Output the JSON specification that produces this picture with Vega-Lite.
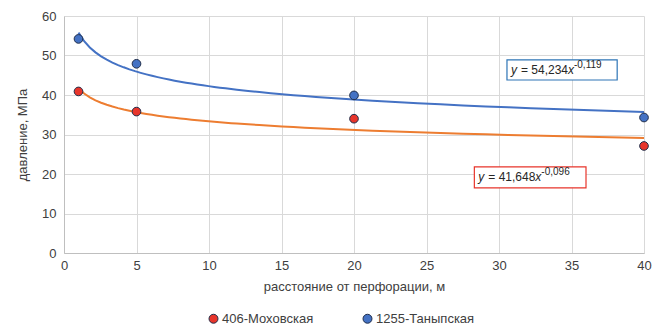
{
  "$schema": "https://vega.github.io/schema/vega-lite/v6.json",
  "autosize": "none",
  "width": 580,
  "height": 237,
  "padding": {"left": 64, "top": 16, "right": 8, "bottom": 72},
  "config": {
    "font": "Liberation Sans",
    "view": {"stroke": null},
    "axis": {"labelFont": "Liberation Sans", "titleFont": "Liberation Sans", "labelColor": "#404040", "titleColor": "#404040", "labelFontSize": 13, "titleFontSize": 13, "titleFontWeight": "normal", "gridColor": "#d9d9d9", "domainColor": "#bfbfbf", "ticks": false},
    "axisX": {"labelPadding": 6, "titlePadding": 8, "labelFlush": false},
    "axisY": {"labelPadding": 8, "titlePadding": 12}
  },
  "datasets": {
    "points": [
      {"x": 1, "y": 40.9, "series": "406-Моховская"},
      {"x": 5, "y": 35.8, "series": "406-Моховская"},
      {"x": 20, "y": 34.0, "series": "406-Моховская"},
      {"x": 40, "y": 27.1, "series": "406-Моховская"},
      {"x": 1, "y": 54.2, "series": "1255-Таныпская"},
      {"x": 5, "y": 47.9, "series": "1255-Таныпская"},
      {"x": 20, "y": 39.9, "series": "1255-Таныпская"},
      {"x": 40, "y": 34.3, "series": "1255-Таныпская"}
    ],
    "labels": [
      {"series": "1255-Таныпская", "x1": 30.55, "x2": 38.15, "y1": 48.9, "y2": 43.8, "yt": 46.35, "coef": "= 54,234", "exp": "-0,119"},
      {"series": "406-Моховская", "x1": 28.3, "x2": 36.0, "y1": 21.8, "y2": 16.5, "yt": 19.15, "coef": "= 41,648", "exp": "-0,096"}
    ]
  },
  "layer": [
    {
      "data": {"name": "points"},
      "transform": [{"regression": "y", "on": "x", "method": "pow", "groupby": ["series"], "extent": [1, 40]}],
      "mark": {"type": "line", "strokeWidth": 2},
      "encoding": {
        "x": {"field": "x", "type": "quantitative", "scale": {"domain": [0, 40], "nice": false}, "axis": {"title": "расстояние от перфорации, м", "values": [0,5,10,15,20,25,30,35,40]}},
        "y": {"field": "y", "type": "quantitative", "scale": {"domain": [0, 60], "nice": false}, "axis": {"title": "давление, МПа", "values": [0,10,20,30,40,50,60]}},
        "stroke": {"field": "series", "type": "nominal", "scale": {"domain": ["406-Моховская", "1255-Таныпская"], "range": ["#ed7d31", "#4472c4"]}, "legend": null}
      }
    },
    {
      "data": {"name": "points"},
      "mark": {"type": "point", "filled": false, "size": 75, "strokeWidth": 1, "stroke": "#1f2d4a", "opacity": 1, "fillOpacity": 1},
      "encoding": {
        "x": {"field": "x", "type": "quantitative", "axis": {"title": "расстояние от перфорации, м", "values": [0,5,10,15,20,25,30,35,40]}},
        "y": {"field": "y", "type": "quantitative", "axis": {"title": "давление, МПа", "values": [0,10,20,30,40,50,60]}},
        "fill": {"field": "series", "type": "nominal", "scale": {"domain": ["406-Моховская", "1255-Таныпская"], "range": ["#e8352b", "#4472c4"]},
          "legend": {"title": null, "orient": "none", "legendX": 143, "legendY": 296, "direction": "horizontal", "symbolType": "circle", "symbolSize": 80, "symbolStrokeColor": "#1f2d4a", "symbolStrokeWidth": 1, "labelFont": "Liberation Sans", "labelFontSize": 13, "labelColor": "#404040", "labelOffset": 2, "columnPadding": 47}}
      }
    },
    {
      "data": {"name": "labels"},
      "mark": {"type": "rect", "fill": "white", "strokeWidth": 1.2},
      "encoding": {
        "x": {"field": "x1", "type": "quantitative", "axis": {"title": "расстояние от перфорации, м", "values": [0,5,10,15,20,25,30,35,40]}},
        "x2": {"field": "x2"},
        "y": {"field": "y1", "type": "quantitative", "axis": {"title": "давление, МПа", "values": [0,10,20,30,40,50,60]}},
        "y2": {"field": "y2"},
        "stroke": {"field": "series", "type": "nominal", "scale": {"domain": ["406-Моховская", "1255-Таныпская"], "range": ["#e8352b", "#2e75b6"]}, "legend": null}
      }
    },
    {
      "data": {"name": "labels"},
      "mark": {"type": "text", "align": "left", "baseline": "middle", "fontSize": 12, "fontStyle": "italic", "dx": 4, "color": "#262626"},
      "encoding": {"x": {"field": "x1", "type": "quantitative", "axis": {"title": "расстояние от перфорации, м", "values": [0,5,10,15,20,25,30,35,40]}}, "y": {"field": "yt", "type": "quantitative", "axis": {"title": "давление, МПа", "values": [0,10,20,30,40,50,60]}}, "text": {"value": "y"}}
    },
    {
      "data": {"name": "labels"},
      "mark": {"type": "text", "align": "left", "baseline": "middle", "fontSize": 12, "dx": 14, "color": "#262626"},
      "encoding": {"x": {"field": "x1", "type": "quantitative", "axis": {"title": "расстояние от перфорации, м", "values": [0,5,10,15,20,25,30,35,40]}}, "y": {"field": "yt", "type": "quantitative", "axis": {"title": "давление, МПа", "values": [0,10,20,30,40,50,60]}}, "text": {"field": "coef"}}
    },
    {
      "data": {"name": "labels"},
      "mark": {"type": "text", "align": "left", "baseline": "middle", "fontSize": 12, "fontStyle": "italic", "dx": 61, "color": "#262626"},
      "encoding": {"x": {"field": "x1", "type": "quantitative", "axis": {"title": "расстояние от перфорации, м", "values": [0,5,10,15,20,25,30,35,40]}}, "y": {"field": "yt", "type": "quantitative", "axis": {"title": "давление, МПа", "values": [0,10,20,30,40,50,60]}}, "text": {"value": "x"}}
    },
    {
      "data": {"name": "labels"},
      "mark": {"type": "text", "align": "left", "baseline": "middle", "fontSize": 10, "dx": 67, "dy": -5, "color": "#262626"},
      "encoding": {"x": {"field": "x1", "type": "quantitative", "axis": {"title": "расстояние от перфорации, м", "values": [0,5,10,15,20,25,30,35,40]}}, "y": {"field": "yt", "type": "quantitative", "axis": {"title": "давление, МПа", "values": [0,10,20,30,40,50,60]}}, "text": {"field": "exp"}}
    }
  ],
  "resolve": {"scale": {"stroke": "independent"}}
}
